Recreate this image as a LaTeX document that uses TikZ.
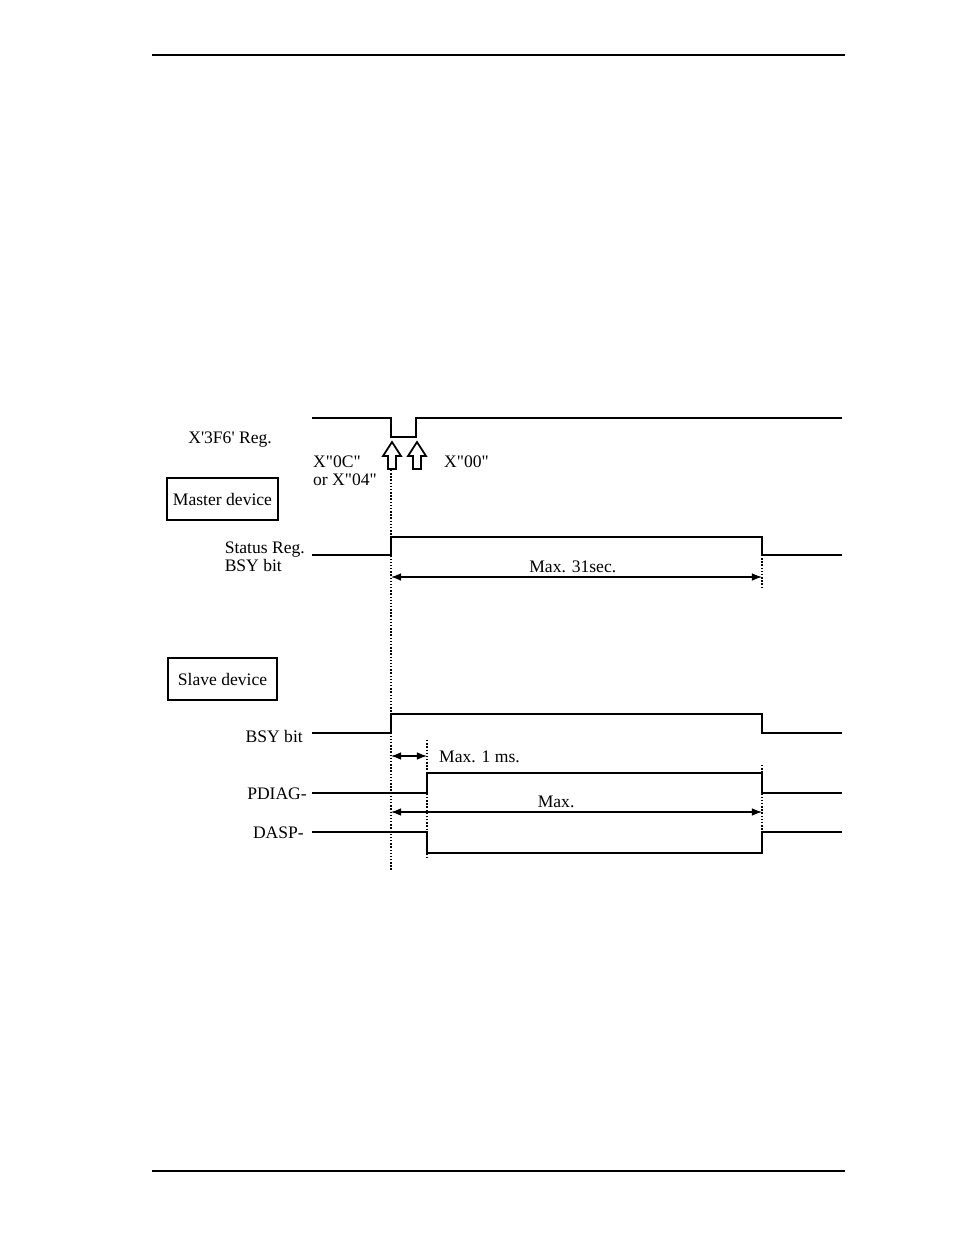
\documentclass[tikz,border=0pt]{standalone}
\usepackage{fontspec}
\setmainfont{Liberation Serif}[Ligatures=TeXOff]
\usepackage{tikz}
\usetikzlibrary{arrows.meta}
\usetikzlibrary{positioning}

\begin{document}
\begin{tikzpicture}[x=0.02cm,y=-0.02cm]
\tikzset{
  sigLine/.style={line width=1.6pt},
  dotLine/.style={densely dotted, line width=0.8pt},
  dimLine/.style={<->, >=Latex, line width=0.6pt},
  boxNode/.style={draw, line width=1pt, minimum width=2.18cm, minimum height=0.84cm, font=\normalsize},
  sigLabel/.style={anchor=east, font=\normalsize, align=right},
  hollowArrow/.style={draw, line width=1pt, fill=white}
}
\useasboundingbox (0,0) rectangle (954,1235);
    % page rules
    \draw[line width=0.6pt] (152,55) -- (845,55);
    \draw[line width=0.6pt] (152,1171) -- (845,1171);

    % labels and boxes
    \node (reg)[sigLabel] at (278,440) {X'3F6' Reg.};
    \node (cmd)[anchor=west, font=\normalsize, align=left] at (307,471) {X"0C"\\[-2pt]or X"04"};
    \node (clr)[anchor=west, font=\normalsize] at (438,462) {X"00"};
    \node (master)[boxNode] at (222.5,499) {Master device};
    \node (stat)[sigLabel, align=left] at (311,557) {Status Reg.\\[-2pt]BSY bit};
    \node (slave)[boxNode] at (222.5,679) {Slave device};
    \node (bsy)[sigLabel] at (309,736) {BSY bit};
    \node (pdiag)[sigLabel] at (313,794) {PDIAG-};
    \node (dasp)[sigLabel] at (310,833) {DASP-};

    % signals
    \draw[sigLine] (312,418) -- (391,418) -- (391,437) -- (416,437) -- (416,418) -- (842,418);
    \draw[sigLine] (312,555) -- (391,555) -- (391,537) -- (762,537) -- (762,555) -- (842,555);
    \draw[sigLine] (312,733) -- (391,733) -- (391,714) -- (762,714) -- (762,733) -- (842,733);
    \draw[sigLine] (312,793) -- (427,793) -- (427,773) -- (762,773) -- (762,793) -- (842,793);
    \draw[sigLine] (312,832) -- (427,832) -- (427,853) -- (762,853) -- (762,832) -- (842,832);

    % write strobes
    \foreach \x in {392,417} {
      \draw[hollowArrow] (\x,442) -- (\x+9,456) -- (\x+4,456) -- (\x+4,469)
        -- (\x-4,469) -- (\x-4,456) -- (\x-9,456) -- cycle;
    }

    % timing marks
    \coordinate (t0a) at (391,470);
    \coordinate (t0b) at (391,870);
    \draw[dotLine] (t0a) -- (t0b);
    \draw[dotLine] (427,740) -- (427,860);
    \draw[dotLine] (762,555) -- (762,588);
    \draw[dotLine] (762,765) -- (762,836);

    \coordinate (m1) at (391,577);
    \coordinate (m2) at (762,577);
    \draw[dimLine] (m1) -- node[above, font=\normalsize, pos=0.49, inner sep=2pt] {Max. 31sec.} (m2);
    \coordinate (p1) at (391,756);
    \coordinate (p2) at (427,756);
    \draw[dimLine] (p1) -- (p2);
    \node (pmax)[anchor=west, font=\normalsize] at (433,757) {Max. 1 ms.};
    \coordinate (q1) at (391,812);
    \coordinate (q2) at (762,812);
    \draw[dimLine] (q1) -- node[above, font=\normalsize, pos=0.445, inner sep=2pt] {Max.} (q2);
\end{tikzpicture}
\end{document}
